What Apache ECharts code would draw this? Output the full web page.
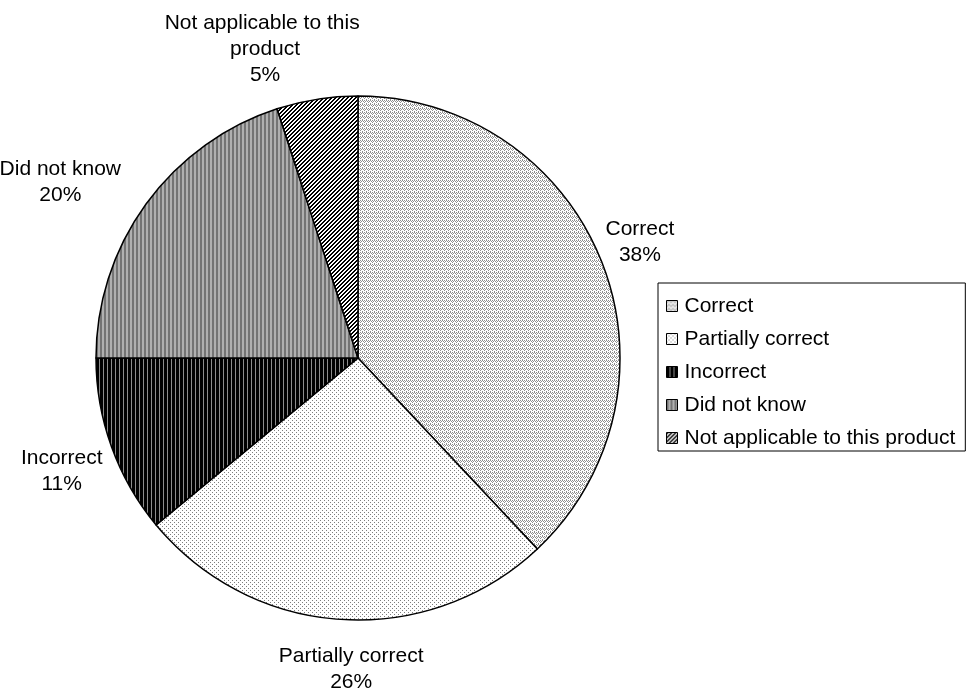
<!DOCTYPE html>
<html>
<head>
<meta charset="utf-8">
<script src="https://cdn.jsdelivr.net/npm/echarts@6/dist/echarts.min.js"></script>
<style>
  html, body { margin: 0; padding: 0; background: #fff; }
  #chart { width: 971px; height: 695px; }
</style>
</head>
<body>
<div id="chart"></div>
<script>
// Answer categories and their shares (percent)
const categories = ['Correct', 'Partially correct', 'Incorrect', 'Did not know', 'Not applicable to this product'];
const shares = [38, 26, 11, 20, 5];

// Pie geometry
const CENTER = [358, 358];
const RADIUS = 262;
const LABEL_RADIUS = 300;
// small per-label nudges so the text blocks sit clear of the pie
const labelNudge = [[3, -5], [12, 12], [-14, 12], [-55, 1], [-46, -12]];

// Build a repeating fill pattern from a pixel painter
function makePattern(w, h, paint) {
  const c = document.createElement('canvas');
  c.width = w; c.height = h;
  const ctx = c.getContext('2d');
  ctx.fillStyle = '#fff';
  ctx.fillRect(0, 0, w, h);
  paint(ctx, w, h);
  return { image: c, repeat: 'repeat' };
}

const fills = [
  // Correct: dense light-grey stipple
  makePattern(4, 4, (ctx) => {
    ctx.fillStyle = '#8f8f8f';
    [[0,0],[2,0],[1,1],[3,1],[0,2],[2,3]].forEach(p => ctx.fillRect(p[0], p[1], 1, 1));
  }),
  // Partially correct: sparse grey dots
  makePattern(4, 4, (ctx) => {
    ctx.fillStyle = '#7d7d7d';
    ctx.fillRect(0, 0, 1, 1);
    ctx.fillRect(2, 2, 1, 1);
  }),
  // Incorrect: black with thin grey vertical lines
  makePattern(4, 4, (ctx) => {
    ctx.fillStyle = '#000';
    ctx.fillRect(0, 0, 4, 4);
    ctx.fillStyle = '#8c8c8c';
    ctx.fillRect(3, 0, 1, 4);
  }),
  // Did not know: two-tone grey vertical stripes
  makePattern(4, 4, (ctx) => {
    ctx.fillStyle = '#747474';
    ctx.fillRect(0, 0, 2, 4);
    ctx.fillStyle = '#b0b0b0';
    ctx.fillRect(2, 0, 2, 4);
  }),
  // Not applicable: black forward-diagonal hatching
  makePattern(4, 4, (ctx) => {
    ctx.fillStyle = '#000';
    for (let y = 0; y < 4; y++) {
      for (let x = 0; x < 4; x++) {
        if (((x + y) % 4) < 2) ctx.fillRect(x, y, 1, 1);
      }
    }
  })
];

const total = shares.reduce((a, b) => a + b, 0);
const cumulative = [];
shares.reduce((acc, v, i) => { cumulative[i] = acc; return acc + v; }, 0);

const FONT = 'Liberation Sans, Arial, sans-serif';

const chart = echarts.init(document.getElementById('chart'), null, { renderer: 'canvas' });

chart.setOption({
  animation: false,
  backgroundColor: '#fff',
  legend: {
    orient: 'vertical',
    left: 658,
    top: 283,
    padding: [11, 10, 1, 8],
    itemGap: 9,
    itemWidth: 11,
    itemHeight: 11,
    icon: 'rect',
    borderColor: '#000',
    borderWidth: 1,
    borderRadius: 0,
    itemStyle: { borderColor: '#000', borderWidth: 1 },
    textStyle: { fontFamily: FONT, fontSize: 21, color: '#000', lineHeight: 24, padding: [0, 0, 0, 2] },
    data: categories
  },
  series: [{
    type: 'pie',
    center: CENTER,
    radius: RADIUS,
    startAngle: 90,
    clockwise: true,
    avoidLabelOverlap: false,
    emphasis: { disabled: true },
    itemStyle: { borderColor: '#000', borderWidth: 1.5 },
    label: {
      show: true,
      position: 'outside',
      formatter: '{b}\n{d}%',
      fontFamily: FONT,
      fontSize: 21,
      lineHeight: 26,
      color: '#000',
      width: 225,
      overflow: 'break',
      align: 'center'
    },
    labelLine: { show: false },
    labelLayout: function (params) {
      const i = params.dataIndex;
      const mid = (90 - 360 * (cumulative[i] + shares[i] / 2) / total) * Math.PI / 180;
      return {
        x: CENTER[0] + LABEL_RADIUS * Math.cos(mid) + labelNudge[i][0],
        y: CENTER[1] - LABEL_RADIUS * Math.sin(mid) + labelNudge[i][1],
        align: 'center',
        verticalAlign: 'middle'
      };
    },
    data: categories.map((name, i) => ({
      name: name,
      value: shares[i],
      itemStyle: { color: fills[i] }
    }))
  }]
});
</script>
</body>
</html>
